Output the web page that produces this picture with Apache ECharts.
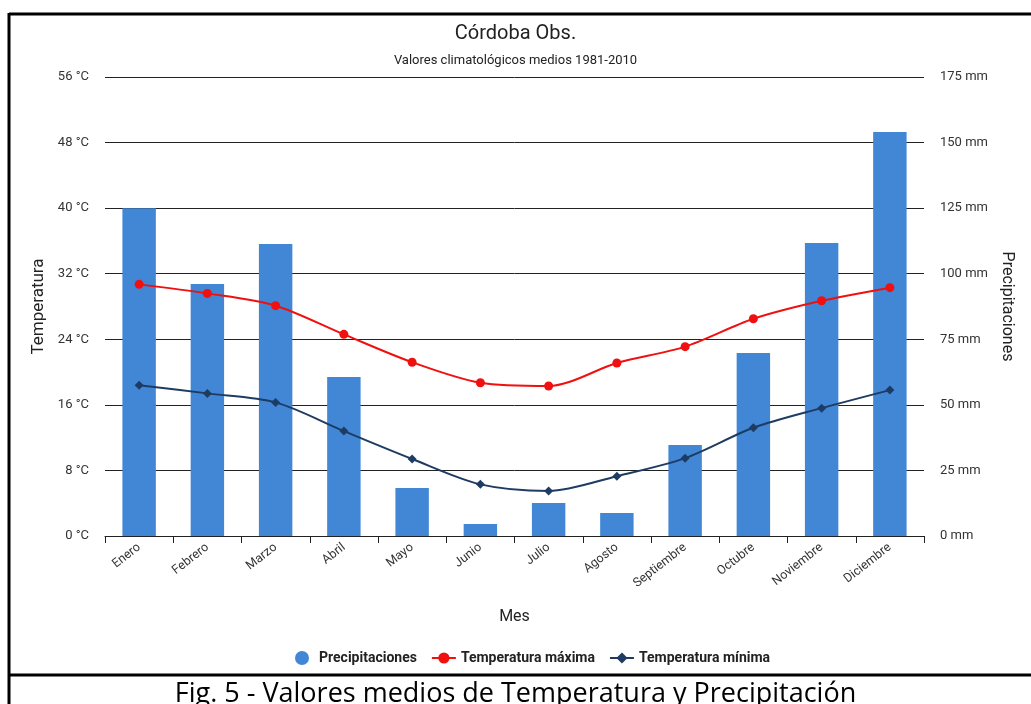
<!DOCTYPE html>
<html><head><meta charset="utf-8">
<script src="https://cdn.jsdelivr.net/npm/echarts@6/dist/echarts.min.js"></script>
<style>html,body{margin:0;padding:0;background:#fff}#c{width:1031px;height:704px}</style>
</head><body><div id="c"></div>
<script>
const months = ['Enero','Febrero','Marzo','Abril','Mayo','Junio','Julio','Agosto','Septiembre','Octubre','Noviembre','Diciembre'];
const precip = [125, 96.1, 111.3, 60.6, 18.3, 4.6, 12.6, 8.8, 34.7, 69.8, 111.7, 154];
const tmax = [30.7, 29.6, 28.1, 24.6, 21.2, 18.7, 18.3, 21.1, 23.1, 26.5, 28.7, 30.3];
const tmin = [18.4, 17.4, 16.3, 12.8, 9.4, 6.3, 5.5, 7.3, 9.5, 13.2, 15.6, 17.8];

const chart = echarts.init(document.getElementById('c'));
const F = 'Roboto, sans-serif';
chart.setOption({
  animation: false,
  textStyle: {fontFamily: F},
  title: [
    {text: 'Córdoba Obs.', left: 'center', top: 19, textStyle: {fontSize: 20, fontWeight: 'normal', color: '#222', fontFamily: F}},
    {text: 'Valores climatológicos medios 1981-2010', left: 'center', top: 49, textStyle: {fontSize: 13, fontWeight: 'normal', color: '#222', fontFamily: F}},
    {text: 'Fig. 5 - Valores medios de Temperatura y Precipitación', left: 'center', top: 676, textStyle: {fontSize: 27, fontWeight: 'normal', color: '#000', fontFamily: '"Open Sans", sans-serif'}}
  ],
  legend: {
    top: 646, left: 290, itemGap: 14, itemWidth: 24, itemHeight: 14,
    textStyle: {fontSize: 14, fontWeight: 'bold', color: '#222', fontFamily: F},
    data: [
      {name: 'Precipitaciones', icon: 'circle'},
      {name: 'Temperatura máxima'},
      {name: 'Temperatura mínima'}
    ]
  },
  grid: {left: 105, right: 107, top: 77, bottom: 168},
  xAxis: {
    type: 'category', data: months,
    name: 'Mes', nameLocation: 'middle', nameGap: 73,
    nameTextStyle: {fontSize: 16, color: '#222'},
    axisLine: {lineStyle: {color: '#222', width: 1}},
    axisTick: {show: true, length: 7, lineStyle: {color: '#222'}},
    axisLabel: {rotate: 38, fontSize: 12.5, color: '#333', margin: 10}
  },
  yAxis: [
    {type: 'value', min: 0, max: 56, interval: 8,
     name: 'Temperatura', nameLocation: 'middle', nameGap: 48, nameRotate: 90,
     nameTextStyle: {fontSize: 17, color: '#222'},
     axisLabel: {formatter: '{value} °C', fontSize: 13, color: '#333', margin: 16},
     axisLine: {show: false}, axisTick: {show: false},
     splitLine: {lineStyle: {color: '#222', width: 1}}},
    {type: 'value', min: 0, max: 175, interval: 25, position: 'right',
     name: 'Precipitaciones', nameLocation: 'middle', nameGap: 62, nameRotate: -90,
     nameTextStyle: {fontSize: 16, color: '#222'},
     axisLabel: {formatter: '{value} mm', fontSize: 13, color: '#333', margin: 16},
     axisLine: {show: false}, axisTick: {show: false},
     splitLine: {show: false}}
  ],
  series: [
    {name: 'Precipitaciones', type: 'bar', yAxisIndex: 1, data: precip, barWidth: '49%',
     itemStyle: {color: '#4187d6'}},
    {name: 'Temperatura máxima', type: 'line', yAxisIndex: 0, data: tmax, smooth: 0.3,
     symbol: 'circle', symbolSize: 9, itemStyle: {color: '#f01010'}, lineStyle: {width: 2, color: '#f01010'}},
    {name: 'Temperatura mínima', type: 'line', yAxisIndex: 0, data: tmin, smooth: 0.3,
     symbol: 'diamond', symbolSize: 9, itemStyle: {color: '#1e3c63'}, lineStyle: {width: 2, color: '#1e3c63'}}
  ],
  graphic: [
    {type: 'line', shape: {x1: 9, y1: 14, x2: 1031, y2: 14}, style: {stroke: '#000', lineWidth: 3}},
    {type: 'line', shape: {x1: 9, y1: 13, x2: 9, y2: 704}, style: {stroke: '#000', lineWidth: 3}},
    {type: 'line', shape: {x1: 9, y1: 675, x2: 1031, y2: 675}, style: {stroke: '#000', lineWidth: 3}}
  ]
});
</script></body></html>
